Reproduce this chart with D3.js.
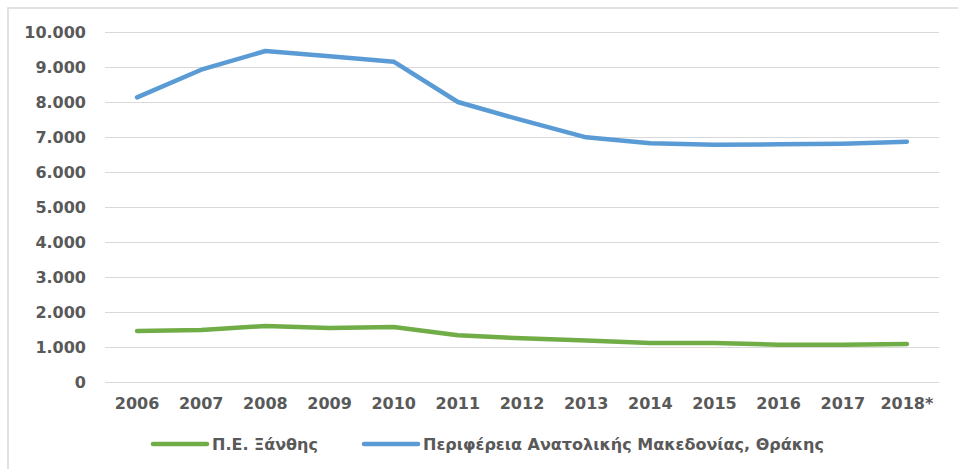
<!DOCTYPE html>
<html>
<head>
<meta charset="utf-8">
<script src="https://cdn.jsdelivr.net/npm/d3@7"></script>
<style>
  body { margin: 0; background: #fff; }
  svg text { font-family: "DejaVu Sans", sans-serif; font-weight: bold; fill: #595959; }
</style>
</head>
<body>
<svg id="chart" width="958" height="469"></svg>
<script>
// τιμές διαβασμένες από το γράφημα
const years = ["2006","2007","2008","2009","2010","2011","2012","2013","2014","2015","2016","2017","2018*"];
const xanthi = [1457,1486,1600,1543,1571,1333,1248,1186,1114,1114,1067,1067,1086];
const amth = [8134,8923,9457,9310,9152,8000,7480,6990,6820,6780,6790,6810,6866];
const yTicks = [0,1000,2000,3000,4000,5000,6000,7000,8000,9000,10000];
const seriesNames = ["Π.Ε. Ξάνθης","Περιφέρεια Ανατολικής Μακεδονίας, Θράκης"];

const colors = ["#70AD47","#5B9BD5"];
const fmt = d3.formatLocale({decimal:",", thousands:".", grouping:[3], currency:["","€"]}).format(",d");

const svg = d3.select('#chart');

// πλαίσιο
svg.append('rect').attr('x',8).attr('y',8).attr('width',1000).attr('height',1000)
  .attr('fill','none').attr('stroke','#d9d9d9').attr('stroke-width',1.5);

const pL = 105, pR = 939, pT = 32, pB = 382;
const x = d3.scaleBand().domain(years).range([pL, pR]).padding(0);
const y = d3.scaleLinear().domain([0,10000]).range([pB, pT]);
const cx = d => x(d) + x.bandwidth()/2;

// γραμμές πλέγματος
svg.append('g')
  .attr('transform',`translate(${pL},0)`)
  .call(d3.axisLeft(y).tickValues(yTicks).tickSize(-(pR-pL)).tickFormat(''))
  .call(g => g.select('.domain').remove())
  .call(g => g.selectAll('line').attr('stroke','#d9d9d9').attr('stroke-width',1.2));

// άξονας y
svg.append('g')
  .attr('transform','translate(86,0)')
  .call(d3.axisLeft(y).tickValues(yTicks).tickSize(0).tickPadding(0).tickFormat(fmt))
  .call(g => g.select('.domain').remove())
  .selectAll('text').style('font-size','16px').attr('fill','#595959');

// άξονας x
svg.append('g')
  .attr('transform',`translate(0,${pB})`)
  .call(d3.axisBottom(x).tickSize(0).tickPadding(16))
  .call(g => g.select('.domain').remove())
  .selectAll('text').style('font-size','16px').attr('fill','#595959');

const line = d3.line().x((d,i) => cx(years[i])).y(d => y(d));

[xanthi, amth].forEach((vals, k) => {
  svg.append('path').datum(vals)
    .attr('d', line)
    .attr('fill','none')
    .attr('stroke', colors[k])
    .attr('stroke-width',4.5)
    .attr('stroke-linejoin','round')
    .attr('stroke-linecap','round');
});

// υπόμνημα
const legX = [153, 364];
const lg = svg.append('g').attr('transform','translate(0,444)');
seriesNames.forEach((name, k) => {
  lg.append('line').attr('x1',legX[k]).attr('x2',legX[k]+54).attr('y1',0).attr('y2',0)
    .attr('stroke',colors[k]).attr('stroke-width',4.5).attr('stroke-linecap','round');
  lg.append('text').attr('x',legX[k]+59).attr('y',0).attr('dy','.35em')
    .style('font-size','16px').text(name);
});
</script>
</body>
</html>
